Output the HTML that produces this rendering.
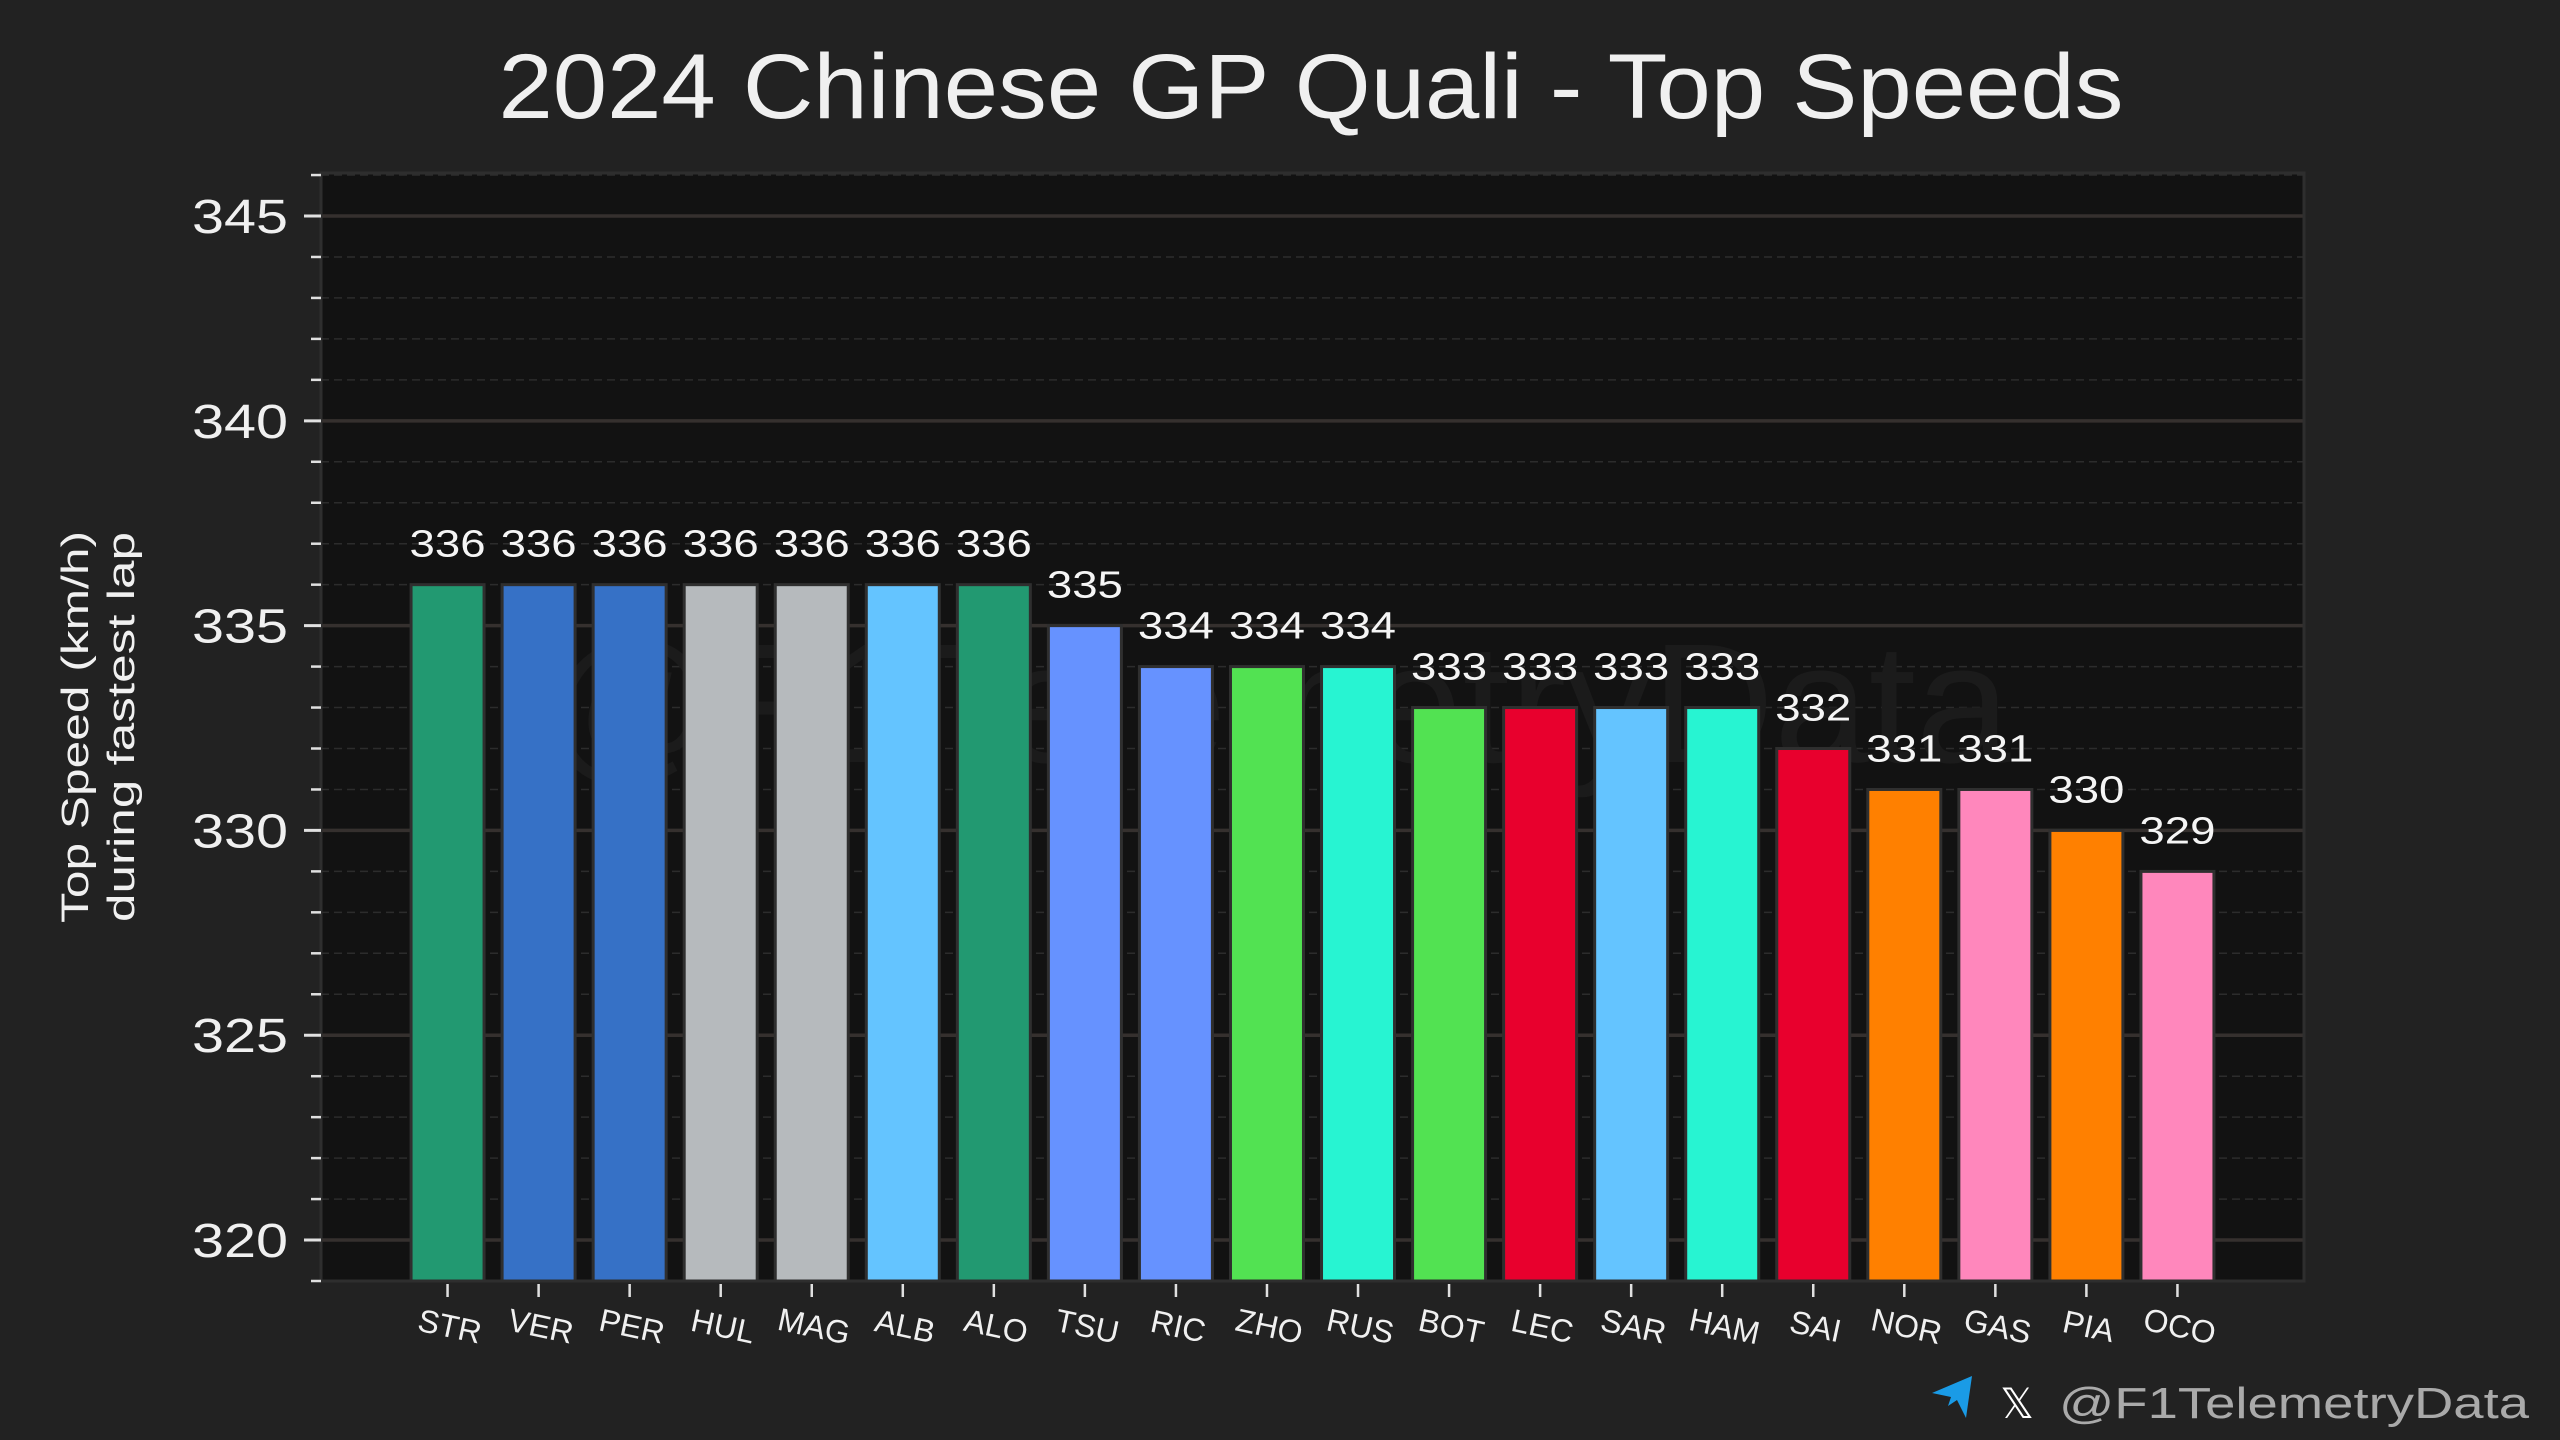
<!DOCTYPE html>
<html><head><meta charset="utf-8">
<style>
html,body{margin:0;padding:0;background:#222222;}
svg{display:block;font-family:"Liberation Sans","DejaVu Sans",sans-serif;}
</style></head>
<body>
<svg id="chart" width="2560" height="1440" viewBox="0 0 2560 1440">
<rect x="0" y="0" width="2560" height="1440" fill="#222222"/>
<text x="1311" y="118" text-anchor="middle" font-size="92" textLength="1625" lengthAdjust="spacingAndGlyphs" fill="#f0f0f0">2024 Chinese GP Quali - Top Speeds</text>
<rect x="321" y="173" width="1983" height="1108" fill="#121212"/>
<g id="grid"></g>
<text x="1277" y="762" text-anchor="middle" font-size="170" fill="#1b1b1b">@F1TelemetryData</text>
<g id="bars"></g>
<rect x="321" y="173" width="1983" height="1108" fill="none" stroke="#2e2e2e" stroke-width="3"/>
<g id="yaxis"></g>
<g id="xaxis"></g>
<text transform="translate(88,727) rotate(-90)" text-anchor="middle" font-size="38" fill="#f0f0f0"><tspan x="0" dy="0" textLength="392" lengthAdjust="spacingAndGlyphs">Top Speed (km/h)</tspan><tspan x="0" dy="46" textLength="390" lengthAdjust="spacingAndGlyphs">during fastest lap</tspan></text>
<g>
<path d="M1932 1393 L1972 1376 L1966 1418 L1957 1400 L1948 1406 L1951 1397 Z" fill="#1a9be6"/>
<text x="2017" y="1418" text-anchor="middle" font-size="42" fill="#ffffff">𝕏</text>
<text x="2059" y="1418" font-size="44" textLength="470" lengthAdjust="spacingAndGlyphs" fill="#aaaaaa">@F1TelemetryData</text>
</g>
</svg>
<script>
const drivers = ["STR","VER","PER","HUL","MAG","ALB","ALO","TSU","RIC","ZHO","RUS","BOT","LEC","SAR","HAM","SAI","NOR","GAS","PIA","OCO"];
const speeds = [336,336,336,336,336,336,336,335,334,334,334,333,333,333,333,332,331,331,330,329];
const colors = ["#229971","#3671C6","#3671C6","#B6BABD","#B6BABD","#64C4FF","#229971","#6692FF","#6692FF","#52E252","#27F4D2","#52E252","#E8002D","#64C4FF","#27F4D2","#E8002D","#FF8000","#FF87BC","#FF8000","#FF87BC"];
const majorTicks = [320,325,330,335,340,345];
const minorTicks = [319,321,322,323,324,326,327,328,329,331,332,333,334,336,337,338,339,341,342,343,344,346];

const NS = "http://www.w3.org/2000/svg";
const PX0 = 321, PX1 = 2304, PY0 = 173, PY1 = 1281;
const YMIN = 319, YMAX = 346.05;
const XMIN = -1.39, XMAX = drivers.length - 1 + 1.39;
function y(v){ return PY1 - (v - YMIN) / (YMAX - YMIN) * (PY1 - PY0); }
function x(i){ return PX0 + (i - XMIN) / (XMAX - XMIN) * (PX1 - PX0); }
function mk(tag, attrs, parent){
  const el = document.createElementNS(NS, tag);
  for (const k in attrs) el.setAttribute(k, attrs[k]);
  parent.appendChild(el);
  return el;
}
const grid = document.getElementById('grid');
const yaxis = document.getElementById('yaxis');
const xaxis = document.getElementById('xaxis');
const bars = document.getElementById('bars');

minorTicks.forEach(v => {
  const yy = y(v);
  if (yy < PY0 || yy > PY1 + 2) return;
  const g = mk('line', {x1:PX0, x2:PX1, y1:yy, y2:yy, stroke:'#2c2c2c', 'stroke-width':1.5, 'stroke-dasharray':'8 5'}, grid);
  
  
  const t = mk('line', {x1:311, x2:321, y1:yy, y2:yy, stroke:'#e0e0e0', 'stroke-width':2.5}, yaxis);
  
  
});
majorTicks.forEach(v => {
  const yy = y(v);
  const g = mk('line', {x1:PX0, x2:PX1, y1:yy, y2:yy, stroke:'#35302e', 'stroke-width':3.5}, grid);
  
  
  const t = mk('line', {x1:304, x2:321, y1:yy, y2:yy, stroke:'#e0e0e0', 'stroke-width':3}, yaxis);
  
  
  const l = mk('text', {x:288, y:yy + 17, 'text-anchor':'end', 'font-size':48, textLength:96, lengthAdjust:'spacingAndGlyphs', fill:'#f0f0f0'}, yaxis);
  l.textContent = v;
  
  
});

const BW = 73;
drivers.forEach((d, i) => {
  const cx = x(i), top = y(speeds[i]);
  const r = mk('rect', {x:cx - BW/2, y:top, width:BW, height:PY1 - top, fill:colors[i], stroke:'#2f2f2f', 'stroke-width':3}, bars);
  
  
  const v = mk('text', {x:cx, y:top - 28, 'text-anchor':'middle', 'font-size':38, textLength:76, lengthAdjust:'spacingAndGlyphs', fill:'#f5f5f5'}, bars);
  v.textContent = speeds[i];
  
  
  const tk = mk('line', {x1:cx, x2:cx, y1:1284, y2:1297, stroke:'#e0e0e0', 'stroke-width':2.5}, xaxis);
  
  
  const lb = mk('text', {transform:'translate(' + cx + ',1337) rotate(12)', 'text-anchor':'middle', 'font-size':32, fill:'#f0f0f0'}, xaxis);
  lb.textContent = d;
  
  
});
</script>
</body></html>
